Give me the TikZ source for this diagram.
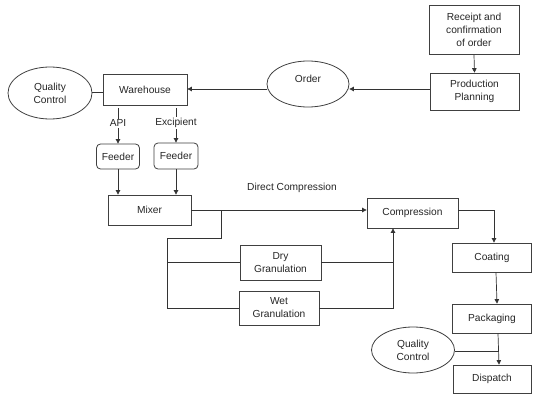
\documentclass[tikz,border=0pt]{standalone}
\usepackage{fontspec}
\setmainfont{Liberation Sans}
\usetikzlibrary{arrows.meta,shapes.geometric,calc}
\begin{document}
\begin{tikzpicture}[x=1pt,y=-1pt,
  font=\fontsize{10.2}{13}\selectfont,
  every node/.style={text=black!85},
  box/.style={draw=black!75, line width=0.8pt, rectangle, align=center, inner sep=1pt},
  rbox/.style={box, rounded corners=4pt},
  oval/.style={draw=black!75, line width=0.8pt, ellipse, align=center, inner sep=0pt},
  conn/.style={draw=black!80, line width=0.7pt},
  arr/.style={conn, -{Triangle[length=4.5pt,width=4.5pt]}},
  lbl/.style={fill=white, inner sep=1pt}
]
\useasboundingbox (0,0) rectangle (533,396);
\fill[white] (0,0) rectangle (533,396);

% nodes
\node[box, minimum width=90, minimum height=49] (rec) at (474,30) {Receipt and\\confirmation\\of order};
\node[box, minimum width=89, minimum height=37] (pp) at (474.5,91.5) {Production\\Planning};
\node[oval, minimum width=82, minimum height=46,
      label={[yshift=5pt]center:Order}] (order) at (308,84) {};
\node[box, minimum width=84, minimum height=31] (wh) at (145,89.5) {Warehouse};
\node[oval, minimum width=84, minimum height=52] (qc1) at (50,93) {Quality\\Control};
\node[rbox, minimum width=43, minimum height=25] (f1) at (118,156.5) {Feeder};
\node[rbox, minimum width=44, minimum height=26] (f2) at (176,156) {Feeder};
\node[box, minimum width=83, minimum height=30] (mix) at (149.5,210) {Mixer};
\node (dc) at (292,188) {Direct Compression};
\node[box, minimum width=91, minimum height=30] (comp) at (412.5,213) {Compression};
\node[box, minimum width=81, minimum height=35] (dry) at (280.5,262.5) {Dry\\Granulation};
\node[box, minimum width=80, minimum height=34] (wet) at (279,308) {Wet\\Granulation};
\node[box, minimum width=79, minimum height=29] (coat) at (492,257.5) {Coating};
\node[box, minimum width=79, minimum height=29] (pack) at (492,318.5) {Packaging};
\node[box, minimum width=78, minimum height=28] (disp) at (492,379) {Dispatch};
\node[oval, minimum width=83, minimum height=46] (qc2) at (413,350) {Quality\\Control};

% helper coordinates
\coordinate (b1) at (221,210);
\coordinate (j1) at (221,238);
\coordinate (j2) at (167,238);
\coordinate (j3) at (167,308);
\coordinate (c1) at (393,308);
\coordinate (t1) at (494,210);
\coordinate (pd) at (498,351);

% connectors
\draw[arr] (rec.south) -- (pp.north);
\draw[arr] (pp.west |- 0,89) -- (order.east |- 0,89);
\draw[arr] (order.west |- 0,89) -- (wh.east |- 0,89);
\draw[conn] (qc1.east |- 0,92) -- (wh.west |- 0,92);
\draw[arr] ([yshift=-3pt]wh.south -| f1.north) -- node[lbl, pos=0.42]{API} (f1.north);
\draw[arr] ([yshift=-3pt]wh.south -| f2.north) -- node[lbl, pos=0.42]{Excipient} (f2.north);
\draw[arr] (f1.south) -- (f1.south |- mix.north);
\draw[arr] (f2.south) -- (f2.south |- mix.north);
\draw[arr] (mix.east) -- (comp.west |- mix.east);
\draw[conn] (b1) -- (j1) -- (j2) -- (j3) -- (wet.west |- j3);
\draw[conn] (j2 |- dry.west) -- (dry.west);
\draw[conn] (dry.east) -- (c1 |- dry.east);
\draw[arr] (wet.east |- c1) -- (c1) -- (c1 |- comp.south);
\draw[arr] (comp.east |- t1) -- (t1) -- (t1 |- coat.north);
\draw[arr] ([xshift=4pt]coat.south) -- ([xshift=5pt]pack.north);
\draw[arr] ([xshift=6pt]pack.south) -- ([xshift=7pt]disp.north);
\draw[conn] (qc2.east |- pd) -- (pd);
\end{tikzpicture}
\end{document}
